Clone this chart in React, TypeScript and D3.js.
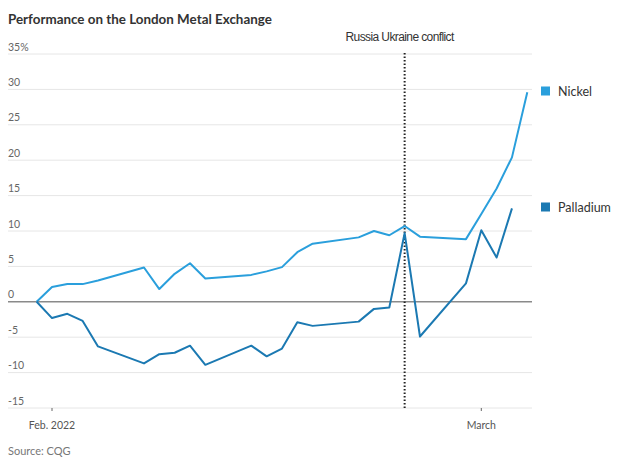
import React from "react";
import * as d3 from "d3";

const dates = [
  "2022-01-31", "2022-02-01", "2022-02-02", "2022-02-03", "2022-02-04",
  "2022-02-07", "2022-02-08", "2022-02-09", "2022-02-10", "2022-02-11",
  "2022-02-14", "2022-02-15", "2022-02-16", "2022-02-17", "2022-02-18",
  "2022-02-21", "2022-02-22", "2022-02-23", "2022-02-24", "2022-02-25",
  "2022-02-28", "2022-03-01", "2022-03-02", "2022-03-03", "2022-03-04",
];

const nickel = [
  0, 2.1, 2.5, 2.5, 3.0,
  4.85, 1.8, 3.95, 5.45, 3.3,
  3.8, 4.3, 4.9, 7.0, 8.2,
  9.1, 10.0, 9.4, 10.7, 9.2,
  8.85, 12.4, 16.0, 20.4, 29.6,
];

const palladium = [
  0, -2.3, -1.7, -2.7, -6.3,
  -8.7, -7.4, -7.2, -6.2, -8.9,
  -6.2, -7.7, -6.6, -2.9, -3.4,
  -2.8, -1.0, -0.8, 9.7, -4.9,
  2.6, 10.1, 6.25, 13.2, null,
];

const yTicks = [-15, -10, -5, 0, 5, 10, 15, 20, 25, 30, 35];
const xTicks = [
  { date: "2022-02-01", label: "Feb. 2022" },
  { date: "2022-03-01", label: "March" },
];
const eventDate = "2022-02-24";
const eventLabel = "Russia Ukraine conflict";

const seriesList = [
  { name: "Nickel", values: nickel, color: "#2a9fdc", legendY: 91 },
  { name: "Palladium", values: palladium, color: "#1b79b2", legendY: 207 },
];

const parse = d3.utcParse("%Y-%m-%d");

export default function App() {
  const x = d3
    .scaleUtc()
    .domain([parse("2022-02-01")!, parse("2022-03-01")!])
    .range([52, 481.3]);
  const y = d3.scaleLinear().domain([-15, 35]).range([408, 54]);
  const gridX0 = 8;
  const gridX1 = 532;

  const font = "'Lato', 'Noto Sans', sans-serif";

  return (
    <svg
      width={630}
      height={463}
      style={{ position: "absolute", left: 0, top: 0, background: "#fff" }}
      fontFamily={font}
    >
      <text x={8} y={24} fontSize={13.4} fontWeight={700} fill="#333">
        Performance on the London Metal Exchange
      </text>

      {yTicks.map((t) => (
        <g key={t}>
          <line
            x1={gridX0}
            x2={gridX1}
            y1={y(t)}
            y2={y(t)}
            stroke={t === 0 ? "#8a8a8a" : "#e6e6e6"}
            strokeWidth={t === 0 ? 1.6 : 1}
          />
          <text x={8} y={y(t) - 3.5} fontSize={10.5} fill="#666">
            {t === 35 ? "35%" : String(t)}
          </text>
        </g>
      ))}

      {xTicks.map((t) => (
        <g key={t.label}>
          <line
            x1={x(parse(t.date)!)}
            x2={x(parse(t.date)!)}
            y1={408}
            y2={411}
            stroke="#666"
            strokeWidth={1}
          />
          <text
            x={x(parse(t.date)!)}
            y={429}
            fontSize={10.5}
            fill="#555"
            textAnchor="middle"
          >
            {t.label}
          </text>
        </g>
      ))}

      <line
        x1={x(parse(eventDate)!)}
        x2={x(parse(eventDate)!)}
        y1={53}
        y2={408}
        stroke="#222"
        strokeWidth={2}
        strokeDasharray="1.5 2"
      />
      <text
        x={x(parse(eventDate)!) - 5}
        y={41}
        fontSize={12}
        fill="#333"
        textAnchor="middle"
        letterSpacing={-0.6}
        fontFamily="'Liberation Sans', Arial, sans-serif"
      >
        {eventLabel}
      </text>

      {seriesList.map((s) => {
        const pts = dates
          .map((d, i) => ({ d: parse(d)!, v: s.values[i] }))
          .filter((p) => p.v !== null && p.v !== undefined) as { d: Date; v: number }[];
        const line = d3
          .line<{ d: Date; v: number }>()
          .x((p) => x(p.d))
          .y((p) => y(p.v));
        return (
          <path
            key={s.name}
            d={line(pts) || ""}
            fill="none"
            stroke={s.color}
            strokeWidth={2}
            strokeLinejoin="round"
          />
        );
      })}

      {seriesList.map((s) => (
        <g key={s.name + "-legend"}>
          <rect x={541} y={s.legendY - 4.5} width={9} height={9} fill={s.color} />
          <text x={558} y={s.legendY + 4.5} fontSize={12.5} fill="#333">
            {s.name}
          </text>
        </g>
      ))}

      <text x={8} y={455} fontSize={11} fill="#777">
        Source: CQG
      </text>
    </svg>
  );
}
